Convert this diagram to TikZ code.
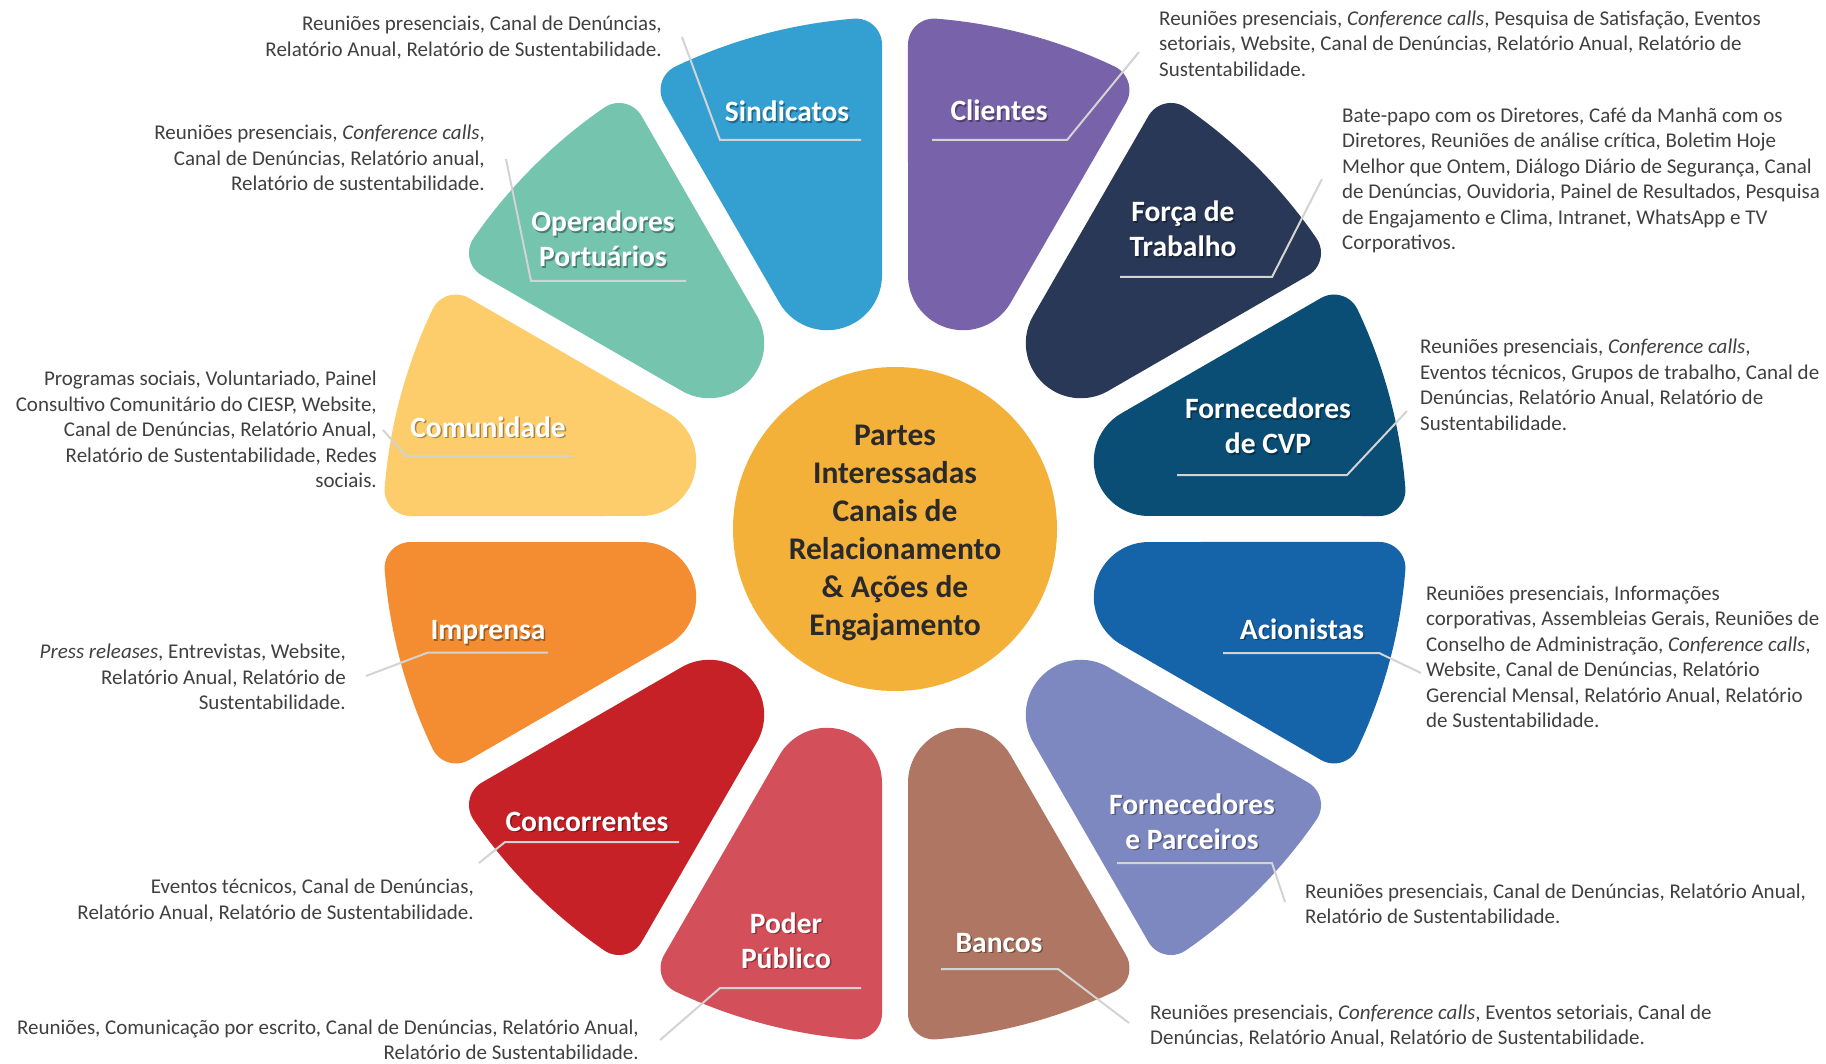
\documentclass[tikz,border=0pt]{standalone}
\usepackage{fontspec}
\setmainfont{Carlito}
\definecolor{cSind}{HTML}{33A0D1}
\definecolor{cClie}{HTML}{7862A9}
\definecolor{cForc}{HTML}{283856}
\definecolor{cCVP}{HTML}{0A4D75}
\definecolor{cAcio}{HTML}{1563A9}
\definecolor{cFeP}{HTML}{7E88C0}
\definecolor{cBanc}{HTML}{AF7763}
\definecolor{cPode}{HTML}{D34F59}
\definecolor{cConc}{HTML}{C52127}
\definecolor{cImpr}{HTML}{F48D31}
\definecolor{cComu}{HTML}{FECD6B}
\definecolor{cOper}{HTML}{74C4AE}
\definecolor{cHub}{HTML}{F4B13A}
\definecolor{hubtext}{HTML}{2A2A2A}
\definecolor{bodygray}{HTML}{404040}
\definecolor{leadergray}{HTML}{D3D3D3}
\tikzset{
  body/.style={font=\fontsize{21}{25.5}\selectfont, text=bodygray, inner sep=0pt},
  lbl/.style={font=\fontsize{29.5}{35}\selectfont\bfseries, text=white, inner sep=0pt},
  lblshadow/.style={lbl, text=black, text opacity=0.35},
  leader/.style={draw=leadergray, line width=2pt},
}
% petal: #1 = bisector angle, #2 = colour
\newcommand\petal[2]{%
  \fill[#2, shift={(895,-529)}, rotate=#1]
    (248.50,-53.12) -- (471.28,-112.82)
    arc[start angle=-105, end angle=-10.40, radius=26]
    arc[start angle=-10.40, end angle=10.40, radius=512]
    arc[start angle=10.40, end angle=105, radius=26]
    -- (248.50,53.12)
    arc[start angle=105, end angle=255, radius=55] -- cycle;}
% label: name, x, baseline y (screen), text
\newcommand\petlabel[4]{%
  \node[lblshadow, anchor=base] (#1s) at (#2+1.5,-#3-1.5) {\begin{tabular}[t]{@{}c@{}}#4\end{tabular}};
  \node[lbl, anchor=base] (#1) at (#2,-#3) {\begin{tabular}[t]{@{}c@{}}#4\end{tabular}};}
\newcommand\bodyR[4]{%
  \node[body, anchor=base east] (#1) at (#2,-#3) {\begin{tabular}[t]{@{}r@{}}#4\end{tabular}};}
\newcommand\bodyL[4]{%
  \node[body, anchor=base west] (#1) at (#2,-#3) {\begin{tabular}[t]{@{}l@{}}#4\end{tabular}};}
% leader: name, three points (screen coords)
\newcommand\leaderline[7]{%
  \coordinate (#1a) at (#2,-#3);
  \coordinate (#1b) at (#4,-#5);
  \coordinate (#1c) at (#6,-#7);
  \draw[leader] (#1a) -- (#1b) -- (#1c);}
\begin{document}
\begin{tikzpicture}[x=1pt, y=1pt]
\useasboundingbox (0,0) rectangle (1826,-1064);
\fill[white] (0,0) rectangle (1826,-1064);

% petals
\petal{105}{cSind}
\petal{75}{cClie}
\petal{45}{cForc}
\petal{15}{cCVP}
\petal{-15}{cAcio}
\petal{-45}{cFeP}
\petal{-75}{cBanc}
\petal{-105}{cPode}
\petal{-135}{cConc}
\petal{-165}{cImpr}
\petal{165}{cComu}
\petal{135}{cOper}

% hub
\node[circle, fill=cHub, minimum size=324pt, inner sep=0pt] (hub) at (895,-529) {};
\node[font=\fontsize{31.5}{38.2}\selectfont\bfseries, text=hubtext, inner sep=0pt, anchor=base] (hubtxt) at (895,-445)
  {\begin{tabular}[t]{@{}c@{}}Partes\\Interessadas\\Canais de\\Relacionamento\\\& Ações de\\Engajamento\end{tabular}};

% leader lines
\leaderline{lSind}{861}{140}{720}{140}{682}{37}
\leaderline{lClie}{932}{140}{1067}{140}{1139}{52}
\leaderline{lForc}{1120}{277}{1272}{277}{1322}{179}
\leaderline{lCVP}{1177}{475}{1347}{475}{1407}{411}
\leaderline{lAcio}{1223}{653}{1379}{653}{1421}{673}
\leaderline{lFeP}{1117}{863}{1272}{863}{1285}{902}
\leaderline{lBanc}{941}{969}{1058}{969}{1129}{1023}
\leaderline{lPode}{861}{988}{720}{988}{660}{1040}
\leaderline{lConc}{679}{842}{505}{842}{479}{863}
\leaderline{lImpr}{548}{652.5}{428}{652.5}{366}{676}
\leaderline{lComu}{572}{456}{406}{456}{383}{430}
\leaderline{lOper}{686}{281}{531}{281}{506}{159}

% petal labels
\petlabel{tSind}{787}{122}{Sindicatos}
\petlabel{tClie}{999}{121}{Clientes}
\petlabel{tForc}{1183}{222}{Força de\\Trabalho}
\petlabel{tCVP}{1268}{419}{Fornecedores\\de CVP}
\petlabel{tAcio}{1302}{639}{Acionistas}
\petlabel{tFeP}{1192}{814}{Fornecedores\\e Parceiros}
\petlabel{tBanc}{999}{952}{Bancos}
\petlabel{tPode}{786}{933}{Poder\\Público}
\petlabel{tConc}{587}{831}{Concorrentes}
\petlabel{tImpr}{488}{639.5}{Imprensa}
\petlabel{tComu}{488}{437}{Comunidade}
\petlabel{tOper}{603}{232}{Operadores\\Portuários}

% body texts
\bodyR{bSind}{662}{31}{Reuniões presenciais, Canal de Denúncias,\\Relatório Anual, Relatório de Sustentabilidade.}
\bodyL{bClie}{1159}{25.5}{Reuniões presenciais, \textit{Conference calls}, Pesquisa de Satisfação, Eventos\\setoriais, Website, Canal de Denúncias, Relatório Anual, Relatório de\\Sustentabilidade.}
\bodyL{bForc}{1342}{122.5}{Bate-papo com os Diretores, Café da Manhã com os\\Diretores, Reuniões de análise crítica, Boletim Hoje\\Melhor que Ontem, Diálogo Diário de Segurança, Canal\\de Denúncias, Ouvidoria, Painel de Resultados, Pesquisa\\de Engajamento e Clima, Intranet, WhatsApp e TV\\Corporativos.}
\bodyL{bCVP}{1420}{354}{Reuniões presenciais, \textit{Conference calls},\\Eventos técnicos, Grupos de trabalho, Canal de\\Denúncias, Relatório Anual, Relatório de\\Sustentabilidade.}
\bodyL{bAcio}{1426}{600}{Reuniões presenciais, Informações\\corporativas, Assembleias Gerais, Reuniões de\\Conselho de Administração, \textit{Conference calls},\\Website, Canal de Denúncias, Relatório\\Gerencial Mensal, Relatório Anual, Relatório\\de Sustentabilidade.}
\bodyL{bFeP}{1305}{898}{Reuniões presenciais, Canal de Denúncias, Relatório Anual,\\Relatório de Sustentabilidade.}
\bodyL{bBanc}{1150}{1019}{Reuniões presenciais, \textit{Conference calls}, Eventos setoriais, Canal de\\Denúncias, Relatório Anual, Relatório de Sustentabilidade.}
\bodyR{bPode}{639}{1034}{Reuniões, Comunicação por escrito, Canal de Denúncias, Relatório Anual,\\Relatório de Sustentabilidade.}
\bodyR{bConc}{474}{893.5}{Eventos técnicos, Canal de Denúncias,\\Relatório Anual, Relatório de Sustentabilidade.}
\bodyR{bImpr}{346}{658.5}{\textit{Press releases}, Entrevistas, Website,\\Relatório Anual, Relatório de\\Sustentabilidade.}
\bodyR{bComu}{377}{386}{Programas sociais, Voluntariado, Painel\\Consultivo Comunitário do CIESP, Website,\\Canal de Denúncias, Relatório Anual,\\Relatório de Sustentabilidade, Redes\\sociais.}
\bodyR{bOper}{485}{140}{Reuniões presenciais, \textit{Conference calls},\\Canal de Denúncias, Relatório anual,\\Relatório de sustentabilidade.}
\end{tikzpicture}
\end{document}
